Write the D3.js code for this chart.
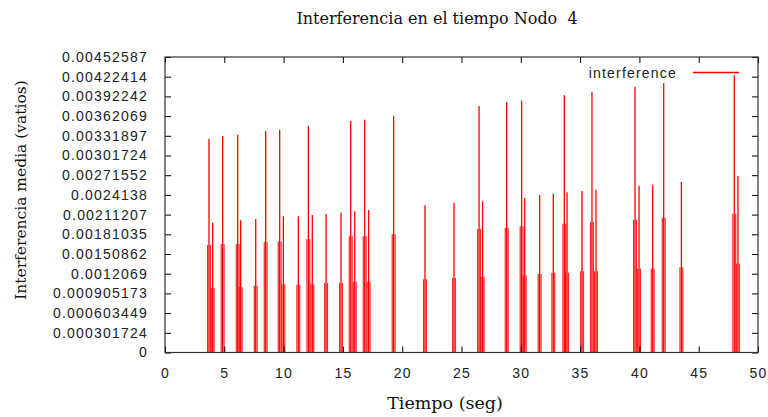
<!DOCTYPE html>
<html>
<head>
<meta charset="utf-8">
<script src="https://cdn.jsdelivr.net/npm/d3@7"></script>
<style>
  body { margin: 0; background: #fff; }
  svg { display: block; }
</style>
</head>
<body>
<svg id="chart" width="768" height="417"></svg>
<script>
// event times (seg), peak value and the half-height shoulders around each peak
const eventTime = [3.71, 4.02, 4.86, 6.13, 6.38, 7.65, 8.49, 9.67, 9.98, 11.24,
  12.09, 12.42, 13.58, 14.84, 15.66, 16.00, 16.84, 17.17, 19.28, 21.92,
  24.37, 26.48, 26.78, 28.81, 30.07, 30.33, 31.59, 32.74, 33.67, 33.90,
  35.16, 36.00, 36.34, 39.63, 39.97, 41.12, 42.05, 43.54, 48.00, 48.31];
const peakValue = [0.003275, 0.001988, 0.003316, 0.003336, 0.002025, 0.002045, 0.003392, 0.003413, 0.002086, 0.002086,
  0.003469, 0.002106, 0.002121, 0.002141, 0.003546, 0.002163, 0.003566, 0.002182, 0.003622, 0.002254,
  0.002294, 0.003775, 0.002316, 0.003836, 0.003857, 0.002371, 0.002412, 0.002432, 0.003939, 0.002454,
  0.002474, 0.003990, 0.002494, 0.004071, 0.002555, 0.002570, 0.004123, 0.002611, 0.004245, 0.002703];
const shoulderValue = [0.001646, 0.000988, 0.001660, 0.001660, 0.001003, 0.001023, 0.001697, 0.001700, 0.001044, 0.001038,
  0.001738, 0.001044, 0.001064, 0.001064, 0.001780, 0.001084, 0.001780, 0.001084, 0.001815, 0.001121,
  0.001141, 0.001891, 0.001161, 0.001912, 0.001933, 0.001182, 0.001202, 0.001222, 0.001973, 0.001222,
  0.001244, 0.001994, 0.001244, 0.002034, 0.001284, 0.001284, 0.002065, 0.001305, 0.002126, 0.001360];

const yTickLabels = ["0", "0.000301724", "0.000603449", "0.000905173", "0.0012069", "0.00150862",
  "0.00181035", "0.00211207", "0.0024138", "0.00271552", "0.00301724", "0.00331897",
  "0.00362069", "0.00392242", "0.00422414", "0.00452587"];
const xTickValues = [0, 5, 10, 15, 20, 25, 30, 35, 40, 45, 50];

const width = 768, height = 417;
const margin = { top: 57, right: 10, bottom: 64.5, left: 165 };

const svg = d3.select("#chart");

var x = d3.scaleLinear()
  .domain([0, 50])
  .range([margin.left, width - margin.right]);

var y = d3.scaleLinear()
  .domain([0, +yTickLabels[yTickLabels.length - 1]])
  .range([height - margin.bottom, margin.top]);

const red = "#ff0000";
const dt = 0.12; // shoulder offset, seconds

// impulses
const events = eventTime.map((t, i) => ({ t: t, peak: peakValue[i], shoulder: shoulderValue[i] }));
const g = svg.append("g");
events.forEach(d => {
  [d.t - dt, d.t + dt].forEach(tt => {
    g.append("line")
      .attr("x1", x(tt)).attr("x2", x(tt))
      .attr("y1", y(0)).attr("y2", y(d.shoulder))
      .attr("stroke", red).attr("stroke-width", 1.2).attr("stroke-opacity", 0.85);
  });
  g.append("line")
    .attr("x1", x(d.t)).attr("x2", x(d.t))
    .attr("y1", y(0)).attr("y2", y(d.peak))
    .attr("stroke", red).attr("stroke-width", 1.3);
});

// axes with inward ticks, mirrored
const tickFont = "'Liberation Sans', Arial, sans-serif";
const yVals = yTickLabels.map(Number);

svg.append("g")
  .attr("transform", `translate(0,${y(0)})`)
  .call(d3.axisBottom(x).tickValues(xTickValues).tickSizeInner(-6).tickSizeOuter(0).tickPadding(16))
  .call(g => g.select(".domain").remove())
  .call(g => g.selectAll("text").attr("font-family", tickFont).attr("font-size", 14)
    .attr("letter-spacing", 1.2).attr("fill", "#222"));

svg.append("g")
  .attr("transform", `translate(0,${y.range()[1]})`)
  .call(d3.axisTop(x).tickValues(xTickValues).tickSizeInner(-6).tickSizeOuter(0).tickFormat(""))
  .call(g => g.select(".domain").remove());

svg.append("g")
  .attr("transform", `translate(${x(0)},0)`)
  .call(d3.axisLeft(y).tickValues(yVals).tickSizeInner(-6).tickSizeOuter(0).tickPadding(17)
    .tickFormat((d, i) => yTickLabels[i]))
  .call(g => g.select(".domain").remove())
  .call(g => g.selectAll("text").attr("font-family", tickFont).attr("font-size", 14)
    .attr("letter-spacing", 1.2).attr("fill", "#222"));

svg.append("g")
  .attr("transform", `translate(${x(50)},0)`)
  .call(d3.axisRight(y).tickValues(yVals).tickSizeInner(-6).tickSizeOuter(0).tickFormat(""))
  .call(g => g.select(".domain").remove());

svg.selectAll(".tick line").attr("stroke", "#000");

// frame
svg.append("rect")
  .attr("x", x(0)).attr("y", y.range()[1])
  .attr("width", x(50) - x(0)).attr("height", y(0) - y.range()[1])
  .attr("fill", "none").attr("stroke", "#333").attr("stroke-width", 1.2);

// legend
svg.append("text")
  .attr("x", 677).attr("y", 73)
  .attr("dy", "0.35em")
  .attr("text-anchor", "end")
  .attr("font-family", tickFont).attr("font-size", 14).attr("letter-spacing", 1.2)
  .attr("fill", "#222")
  .text("interference");
svg.append("line")
  .attr("x1", 693).attr("x2", 739).attr("y1", 72.5).attr("y2", 72.5)
  .attr("stroke", red).attr("stroke-width", 1.3);

// titles
const serif = "'DejaVu Serif', serif";
svg.append("text")
  .attr("x", 437).attr("y", 18).attr("dy", "0.35em")
  .attr("text-anchor", "middle")
  .attr("font-family", serif).attr("font-size", 16)
  .attr("fill", "#111")
  .style("white-space", "pre")
  .text("Interferencia en el tiempo Nodo  4");

svg.append("text")
  .attr("x", 445).attr("y", 403).attr("dy", "0.35em")
  .attr("text-anchor", "middle")
  .attr("font-family", serif).attr("font-size", 17.5)
  .attr("fill", "#111")
  .text("Tiempo (seg)");

svg.append("text")
  .attr("transform", "translate(21,190) rotate(-90)")
  .attr("dy", "0.35em")
  .attr("text-anchor", "middle")
  .attr("font-family", serif).attr("font-size", 15.5)
  .attr("fill", "#111")
  .text("Interferencia media (vatios)");
</script>
</body>
</html>
